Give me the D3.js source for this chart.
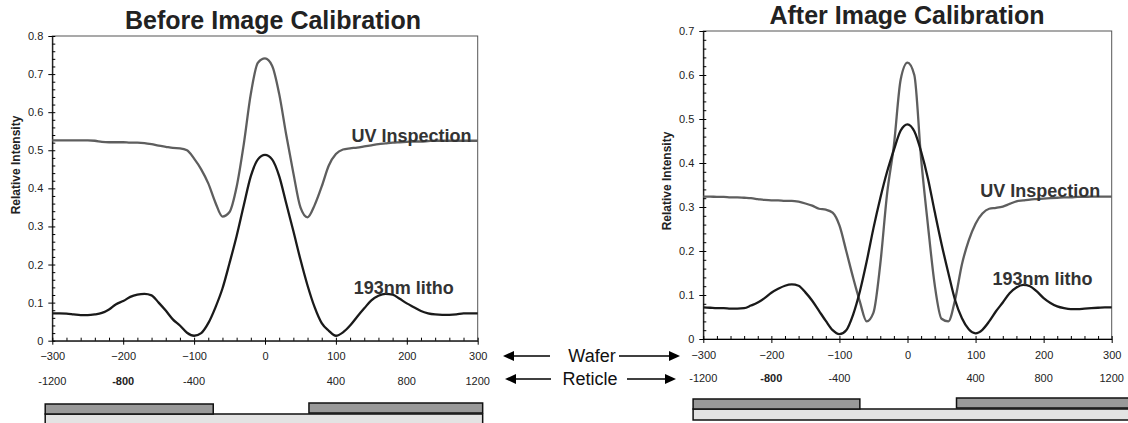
<!DOCTYPE html>
<html>
<head>
<meta charset="utf-8">
<script src="https://cdn.jsdelivr.net/npm/d3@7"></script>
<style>
  body { margin: 0; background: #fff; }
  text { font-family: "Liberation Sans", Arial, sans-serif; }
</style>
</head>
<body>
<svg id="chart" width="1128" height="423"></svg>
<script>
// wafer position (nm) of every sample
const positions = [-300,-290,-280,-270,-260,-250,-240,-230,-220,-210,-200,-190,-180,-170,-160,-150,-140,-130,-120,-110,
  -100,-90,-80,-70,-60,-50,-40,-30,-20,-10,0,10,20,30,40,50,60,70,80,90,
  100,110,120,130,140,150,160,170,180,190,200,210,220,230,240,250,260,270,280,290,300];

const uvBefore = [0.526,0.526,0.526,0.526,0.526,0.526,0.525,0.522,0.521,0.521,0.521,0.520,0.520,0.519,0.516,0.512,0.509,0.506,0.505,0.500,
  0.478,0.450,0.413,0.363,0.326,0.338,0.404,0.515,0.648,0.730,0.741,0.722,0.648,0.540,0.440,0.350,0.324,0.356,0.405,0.460,
  0.490,0.502,0.505,0.507,0.510,0.513,0.516,0.518,0.520,0.521,0.522,0.523,0.523,0.524,0.525,0.525,0.525,0.525,0.525,0.525,0.525];

const lithoBefore = [0.072,0.072,0.071,0.069,0.067,0.067,0.069,0.073,0.082,0.096,0.104,0.115,0.121,0.123,0.119,0.100,0.079,0.056,0.040,0.021,
  0.013,0.020,0.046,0.087,0.137,0.204,0.275,0.355,0.432,0.476,0.488,0.476,0.432,0.360,0.288,0.213,0.145,0.088,0.046,0.026,
  0.013,0.022,0.040,0.063,0.085,0.106,0.118,0.123,0.121,0.110,0.098,0.088,0.078,0.072,0.069,0.068,0.068,0.069,0.072,0.072,0.072];

const uvAfter = [0.3235,0.3235,0.323,0.323,0.322,0.322,0.321,0.320,0.318,0.316,0.315,0.315,0.314,0.314,0.312,0.308,0.303,0.296,0.294,0.287,
  0.258,0.200,0.140,0.085,0.040,0.060,0.170,0.330,0.440,0.590,0.628,0.600,0.410,0.259,0.123,0.046,0.040,0.090,0.170,0.224,
  0.262,0.285,0.296,0.298,0.301,0.307,0.313,0.315,0.317,0.318,0.319,0.320,0.321,0.322,0.322,0.323,0.323,0.3235,0.3235,0.3235,0.3235];

const lithoAfter = [0.072,0.071,0.070,0.070,0.069,0.069,0.070,0.076,0.083,0.093,0.105,0.114,0.121,0.124,0.121,0.106,0.087,0.064,0.041,0.020,
  0.011,0.020,0.055,0.108,0.176,0.252,0.320,0.380,0.430,0.474,0.488,0.472,0.426,0.365,0.289,0.216,0.150,0.088,0.047,0.022,
  0.013,0.021,0.040,0.063,0.083,0.104,0.117,0.123,0.120,0.108,0.093,0.082,0.074,0.070,0.068,0.068,0.069,0.070,0.071,0.072,0.072];

const yTicksBefore = [0, 0.1, 0.2, 0.3, 0.4, 0.5, 0.6, 0.7, 0.8];
const yTicksAfter = [0, 0.1, 0.2, 0.3, 0.4, 0.5, 0.6, 0.7];
const waferTicks = [-300, -200, -100, 0, 100, 200, 300];
const reticleTicks = [-1200, -800, -400, 400, 800, 1200];

// chrome segments of the mask sketch, in wafer units
const maskBefore = [[-310, -73], [62, 307]];
const maskAfter = [[-315, -70], [72, 330]];

const axisLabels = ["Wafer", "Reticle"];

const svg = d3.select("#chart");

const panels = [
  { title: "Before Image Calibration", uv: uvBefore, litho: lithoBefore, yTicks: yTicksBefore,
    left: 52.3, right: 477.7, top: 36, bottom: 340.7, titleX: 273, titleY: 29,
    uvLabel: [122, 0.522], lithoLabel: [125, 0.1226], yLabel: [16, 165],
    reticleY: 385, mask: maskBefore, maskTop: 404, closed: false },
  { title: "After Image Calibration", uv: uvAfter, litho: lithoAfter, yTicks: yTicksAfter,
    left: 703.3, right: 1111.7, top: 31, bottom: 339, titleX: 907, titleY: 24,
    uvLabel: [107, 0.3227], lithoLabel: [125, 0.1227], yLabel: [667, 181],
    reticleY: 382, mask: maskAfter, maskTop: 399, closed: true }
];

panels.forEach(p => {
  const yMax = p.yTicks[p.yTicks.length - 1];
  const x = d3.scaleLinear().domain([-300, 300]).range([p.left, p.right]);
  const y = d3.scaleLinear().domain([0, yMax]).range([p.bottom, p.top]);
  const g = svg.append("g");

  // frame
  g.append("rect")
    .attr("x", p.left).attr("y", p.top)
    .attr("width", p.right - p.left).attr("height", p.bottom - p.top)
    .attr("fill", "none").attr("stroke", "#555").attr("stroke-width", 1);

  // minor ticks pointing inward
  const yMinor = d3.range(0, Math.round(yMax * 50) + 1).map(i => i / 50);
  g.append("g").attr("transform", `translate(${p.left},0)`)
    .call(d3.axisLeft(y).tickValues(yMinor).tickSize(-3).tickFormat(""))
    .call(a => a.select(".domain").remove());
  const xMinor = d3.range(-300, 301, 20);
  g.append("g").attr("transform", `translate(0,${p.bottom})`)
    .call(d3.axisBottom(x).tickValues(xMinor).tickSize(-3).tickFormat(""))
    .call(a => a.select(".domain").remove());

  // major axes
  g.append("g").attr("transform", `translate(${p.left},0)`)
    .call(d3.axisLeft(y).tickValues(p.yTicks).tickSize(4).tickSizeOuter(0).tickPadding(5)
      .tickFormat(d => d === 0 ? "0" : d3.format(".1f")(d)))
    .call(a => a.selectAll("text").attr("font-size", 11).attr("fill", "#222")
      .style("font-family", '"Liberation Sans", Arial, sans-serif'));
  g.append("g").attr("transform", `translate(0,${p.bottom})`)
    .call(d3.axisBottom(x).tickValues(waferTicks).tickSize(4).tickSizeOuter(0).tickPadding(8))
    .call(a => a.selectAll("text").attr("font-size", 11).attr("fill", "#222")
      .style("font-family", '"Liberation Sans", Arial, sans-serif'));

  // reticle scale (4x)
  g.selectAll(".ret").data(reticleTicks).enter().append("text")
    .attr("x", d => x(d / 4)).attr("y", p.reticleY)
    .attr("text-anchor", "middle").attr("font-size", 11).attr("fill", "#222")
    .attr("font-weight", d => d === -800 ? "bold" : "normal")
    .text(d => d);

  // curves
  const line = series => d3.line()
    .x((d, i) => x(positions[i]))
    .y(d => y(d))
    .curve(d3.curveMonotoneX)(series);
  g.append("path").attr("d", line(p.uv)).attr("fill", "none")
    .attr("stroke", "#5e5e5e").attr("stroke-width", 2.3);
  g.append("path").attr("d", line(p.litho)).attr("fill", "none")
    .attr("stroke", "#1a1a1a").attr("stroke-width", 2.3);

  // labels
  g.append("text").attr("x", x(p.uvLabel[0])).attr("y", y(p.uvLabel[1]))
    .attr("font-size", 18).attr("font-weight", "bold").attr("fill", "#333").text("UV Inspection");
  g.append("text").attr("x", x(p.lithoLabel[0])).attr("y", y(p.lithoLabel[1]))
    .attr("font-size", 18).attr("font-weight", "bold").attr("fill", "#333").text("193nm litho");

  g.append("text").attr("x", p.titleX).attr("y", p.titleY)
    .attr("text-anchor", "middle").attr("font-size", 25).attr("font-weight", "bold")
    .attr("fill", "#222").text(p.title);

  g.append("text")
    .attr("transform", `translate(${p.yLabel[0]},${p.yLabel[1]}) rotate(-90)`)
    .attr("text-anchor", "middle").attr("dy", "0.35em")
    .attr("font-size", 12).attr("font-weight", "bold").attr("fill", "#222")
    .text("Relative Intensity");

  // mask sketch
  const x0 = x(p.mask[0][0]), x1 = x(p.mask[1][1]);
  const subTop = p.maskTop + 10;
  g.append("rect").attr("x", x0).attr("y", subTop)
    .attr("width", x1 - x0).attr("height", p.closed ? 11 : 20)
    .attr("fill", "#e3e3e3").attr("stroke", "#111").attr("stroke-width", 1.5);
  g.selectAll(".chrome").data(p.mask).enter().append("rect")
    .attr("x", d => x(d[0])).attr("y", (d, i) => p.maskTop - (i ? 1 : 0))
    .attr("width", d => x(d[1]) - x(d[0])).attr("height", 10)
    .attr("fill", "#999").attr("stroke", "#111").attr("stroke-width", 1.5);
});

// Wafer / Reticle arrows
const arrowRows = [{ label: axisLabels[0], y: 356, tx: 592, l: [550, 503], r: [619, 680] },
                   { label: axisLabels[1], y: 379, tx: 590, l: [551, 505], r: [627, 676] }];
const ag = svg.append("g");
arrowRows.forEach(r => {
  ag.append("text").attr("x", r.tx).attr("y", r.y).attr("dy", "0.35em")
    .attr("text-anchor", "middle").attr("font-size", 18).attr("fill", "#111").text(r.label);
  [r.l, r.r].forEach(([a, b]) => {
    const dir = Math.sign(b - a);
    ag.append("line").attr("x1", a).attr("x2", b - dir * 9).attr("y1", r.y).attr("y2", r.y)
      .attr("stroke", "#000").attr("stroke-width", 1.6);
    ag.append("path")
      .attr("d", `M${b},${r.y} L${b - dir * 11},${r.y - 5} L${b - dir * 11},${r.y + 5} Z`)
      .attr("fill", "#000");
  });
});
</script>
</body>
</html>
